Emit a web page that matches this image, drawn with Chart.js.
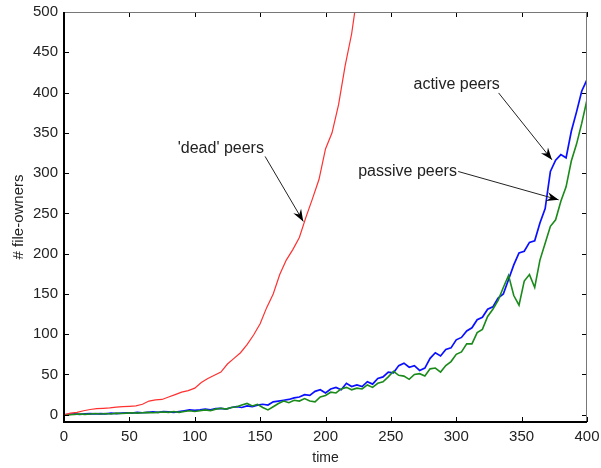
<!DOCTYPE html>
<html>
<head>
<meta charset="utf-8">
<script src="https://cdn.jsdelivr.net/npm/chart.js@4/dist/chart.umd.min.js"></script>
<style>
  html, body { margin: 0; padding: 0; background: #fff; }
  #wrap { width: 601px; height: 468px; }
</style>
</head>
<body>
<div id="wrap"><canvas id="owners" width="601" height="468"></canvas></div>
<script>
// time steps for the simulated peers
const deadTime = [0,5,10,15,20,25,30,35,40,45,50,55,60,65,70,75,80,85,90,95,100,105,110,115,120,125,130,135,140,145,150,155,160,165,170,175,180,185,190,195,200,205,210,215,220,225];
const deadPeers = [0,2,3,5,6.5,7.5,8,8.5,9.5,10,10.5,11,13,17,18.5,19,22,25,28,30,33,40,45,49,53,63,70,77,87,99,113,133,150,174,192,205,220,245,268,292,330,350,385,433,473,530];

const peerTime = [0,4,8,12,16,20,24,28,32,36,40,44,48,52,56,60,64,68,72,76,80,84,88,92,96,100,104,108,112,116,120,124,128,132,136,140,144,148,152,156,160,164,168,172,176,180,184,188,192,196,200,204,208,212,216,220,224,228,232,236,240,244,248,252,256,260,264,268,272,276,280,284,288,292,296,300,304,308,312,316,320,324,328,332,336,340,344,348,352,356,360,364,368,372,376,380,384,388,392,396,400];
const activePeers = [0,0.5,1,0.5,1,1.5,1,1.5,1,2,1.5,2,2.5,2,3,2.5,3,3.5,3,4,3.5,3,4,5,6,5.5,6,7,6,7.5,8,7,9,10,9,11,10,12,13,12,16,17,18,19,21,22,25,24,29,31,27,32,34,31,39,35,37,35,41,38,45,47,53,52,61,64,59,61,55,58,70,77,73,81,83,93,96,104,108,118,121,131,134,145,150,168,186,201,203,214,216,238,256,302,316,323,319,352,376,402,416];
const passivePeers = [0,0,0.5,1,0.5,1,1.5,1,1.5,1,2,1.5,2,2.5,2,2.5,3,2.5,3,3.5,3,4,3,4,5,4,5,6,5,7,8,7,9,10,12,14,11,13,9,6,10,14,17,15,18,17,20,17,16,22,24,28,27,32,34,31,33,32,37,34,39,41,47,54,49,48,44,50,51,48,57,58,53,61,66,75,78,88,88,102,106,122,131,142,158,173,148,136,166,174,158,192,213,234,242,265,283,315,336,362,391];

const xTicks = [0,50,100,150,200,250,300,350,400];
const yTicks = [0,50,100,150,200,250,300,350,400,450,500];

// text labels with arrows, in data coordinates
const notes = [
  { text: "'dead' peers", at: [87, 331], from: [153.8, 320.7], to: [183, 240] },
  { text: "active peers", at: [267.3, 410], from: [332.4, 399.5], to: [373.2, 316.5] },
  { text: "passive peers", at: [225, 302], from: [301.5, 302], to: [378.3, 266.8] }
];

const toPoints = (xs, ys) => ys.map((v, i) => ({ x: xs[i], y: v }));

// boxed frame with inward ticks, plus the arrow labels
const framePlugin = {
  id: "frame",
  afterDatasetsDraw(chart) {
    const { ctx, chartArea: a, scales: { x, y } } = chart;
    ctx.save();
    ctx.strokeStyle = "#000";
    ctx.lineWidth = 1;
    ctx.beginPath();
    xTicks.forEach(t => {
      const px = Math.round(x.getPixelForValue(t)) + 0.5;
      ctx.moveTo(px, a.bottom); ctx.lineTo(px, a.bottom - 5);
      ctx.moveTo(px, a.top); ctx.lineTo(px, a.top + 5);
    });
    yTicks.forEach(t => {
      const py = Math.round(y.getPixelForValue(t)) + 0.5;
      ctx.moveTo(a.left, py); ctx.lineTo(a.left + 5, py);
      ctx.moveTo(a.right, py); ctx.lineTo(a.right - 5, py);
    });
    ctx.stroke();
    ctx.strokeStyle = "#777";
    ctx.beginPath();
    ctx.moveTo(a.left, a.top + 0.5); ctx.lineTo(a.right, a.top + 0.5);
    ctx.moveTo(a.right - 0.5, a.top); ctx.lineTo(a.right - 0.5, a.bottom);
    ctx.stroke();
    ctx.strokeStyle = "#000";
    ctx.lineWidth = 2;
    ctx.beginPath();
    ctx.moveTo(a.left, a.top); ctx.lineTo(a.left, a.bottom); ctx.lineTo(a.right, a.bottom);
    ctx.stroke();

    ctx.font = "16px 'Liberation Sans', Arial, sans-serif";
    ctx.fillStyle = "#222";
    ctx.textBaseline = "middle";
    notes.forEach(n => {
      ctx.fillText(n.text, x.getPixelForValue(n.at[0]), y.getPixelForValue(n.at[1]));
      const x0 = x.getPixelForValue(n.from[0]), y0 = y.getPixelForValue(n.from[1]);
      const x1 = x.getPixelForValue(n.to[0]), y1 = y.getPixelForValue(n.to[1]);
      const ang = Math.atan2(y1 - y0, x1 - x0);
      ctx.strokeStyle = "#222";
      ctx.lineWidth = 1;
      ctx.beginPath();
      ctx.moveTo(x0, y0); ctx.lineTo(x1, y1);
      ctx.stroke();
      ctx.beginPath();
      ctx.moveTo(x1, y1);
      ctx.lineTo(x1 - 12 * Math.cos(ang) + 4.5 * Math.sin(ang), y1 - 12 * Math.sin(ang) - 4.5 * Math.cos(ang));
      ctx.lineTo(x1 - 8 * Math.cos(ang), y1 - 8 * Math.sin(ang));
      ctx.lineTo(x1 - 12 * Math.cos(ang) - 4.5 * Math.sin(ang), y1 - 12 * Math.sin(ang) + 4.5 * Math.cos(ang));
      ctx.closePath();
      ctx.fillStyle = "#000";
      ctx.fill();
      ctx.fillStyle = "#222";
    });
    ctx.restore();
  }
};

const font = { family: "'Liberation Sans', Arial, sans-serif", size: 15 };

new Chart(document.getElementById("owners").getContext("2d"), {
  type: "line",
  data: {
    datasets: [
      { label: "dead", data: toPoints(deadTime, deadPeers), borderColor: "#ff3030", borderWidth: 1.2 },
      { label: "passive", data: toPoints(peerTime, passivePeers), borderColor: "#1a8a1a", borderWidth: 1.6 },
      { label: "active", data: toPoints(peerTime, activePeers), borderColor: "#0a10ff", borderWidth: 1.7 }
    ]
  },
  options: {
    responsive: false,
    animation: false,
    parsing: false,
    elements: { point: { radius: 0 }, line: { tension: 0 } },
    layout: { padding: { top: 12, right: 14, left: 0, bottom: 0 } },
    plugins: { legend: { display: false }, tooltip: { enabled: false } },
    scales: {
      x: {
        type: "linear", min: 0, max: 400,
        afterBuildTicks: s => { s.ticks = xTicks.map(v => ({ value: v })); },
        afterFit: s => { s.height = 46; s.paddingLeft = 0; s.paddingRight = 0; },
        grid: { display: false, drawTicks: false },
        border: { display: false },
        ticks: { color: "#222", font, padding: 6, maxRotation: 0 },
        title: { display: true, text: "time", color: "#222", font: { ...font, size: 14 }, padding: { top: 0, bottom: 1 } }
      },
      y: {
        type: "linear", min: -9, max: 500,
        afterBuildTicks: s => { s.ticks = yTicks.map(v => ({ value: v })); },
        afterFit: s => { s.width = 64; s.paddingTop = 0; s.paddingBottom = 0; },
        grid: { display: false, drawTicks: false },
        border: { display: false },
        ticks: { color: "#222", font, padding: 6 },
        title: { display: true, text: "# file-owners", color: "#222", font: { ...font, size: 15 }, padding: { top: 10, bottom: 0 } }
      }
    }
  },
  plugins: [framePlugin]
});
</script>
</body>
</html>
